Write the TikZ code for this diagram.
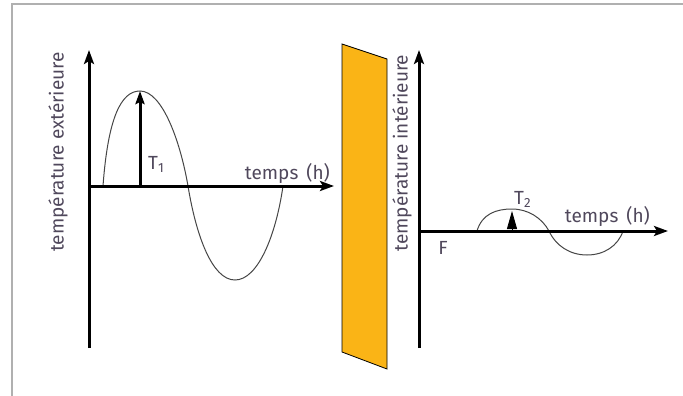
\documentclass[tikz,border=0pt]{standalone}
\usepackage{fontspec}
\setmainfont{Fira Sans}
\usepackage{tikz}
\usepackage{xcolor}
\usetikzlibrary{arrows.meta, positioning, calc}
\definecolor{cText}{RGB}{80,72,92}
\definecolor{cWall}{RGB}{250,180,22}
\definecolor{cFrame}{RGB}{176,176,176}
\definecolor{cCurve}{RGB}{70,70,70}
\tikzset{
    axis/.style     ={line width=3pt, -{Stealth[length=14pt, width=10pt, inset=3pt]}},
    peakarrow/.style={line width=3pt, -{Stealth[length=13pt, width=9pt, inset=2pt]}},
    smallpeak/.style={line width=0.8pt, -{Triangle[length=18pt, width=10pt]}},
    wave/.style     ={line width=1pt, draw=cCurve},
    label/.style    ={text=cText, font=\fontsize{19}{22}\selectfont, inner sep=0pt},
    axislabel/.style={label, rotate=90},
}

\begin{document}
\begin{tikzpicture}[x=1pt, y=-1pt]
    \useasboundingbox (0,0) rectangle (683,396);
    % frame
    \draw[cFrame, line width=1.6pt] (12,396) -- (12,4) -- (683,4);

    % outside graph
    \coordinate (o1)   at (89,186);
    \coordinate (top1) at (89,50);
    \coordinate (bot1) at (89,348);
    \coordinate (end1) at (334,186);
    \coordinate (pk1)  at (140,91);
    \draw[wave] (103,186) .. controls (108,118) and (121,91) .. (pk1)
                .. controls (162,91) and (180,140) .. (188,186)
                .. controls (196,235) and (212,280) .. (235,280)
                .. controls (258,280) and (276,235) .. (283,186);
    \draw[axis] (bot1) -- (top1);
    \draw[axis] (o1) -- (end1);
    \draw[peakarrow] (o1 -| pk1) -- (pk1);
    \node[label, anchor=west] (t1) at (148,164) {T\textsubscript{1}};
    \node[label, anchor=east] (time1) at (330,173) {temps\hspace{8pt}(h)};
    \node[axislabel] (extlab) at (58,152) {température extérieure};

    % wall
    \draw[fill=cWall, line width=0.8pt] (342,44) -- (387,59) -- (387,369) -- (342,352) -- cycle;

    % inside graph
    \coordinate (o2)   at (419,231);
    \coordinate (top2) at (419,50);
    \coordinate (bot2) at (419,348);
    \coordinate (end2) at (668,231);
    \coordinate (pk2)  at (512,209);
    \draw[wave] (477,231) .. controls (482,214) and (496,209) .. (pk2)
                .. controls (528,209) and (542,218) .. (549,231)
                .. controls (556,246) and (570,255) .. (587,255)
                .. controls (604,255) and (618,246) .. (623,231);
    \draw[axis] (bot2) -- (top2);
    \draw[axis] (o2) -- (end2);
    \draw[smallpeak] (o2 -| pk2) -- ($(pk2)+(0,2)$);
    \node[label, anchor=west] (t2) at (514,199) {T\textsubscript{2}};
    \node[label, anchor=east] (time2) at (650,216) {temps\hspace{8pt}(h)};
    \node[label] (f) at (443,248) {F};
    \node[axislabel] (intlab) at (402,153) {température intérieure};
\end{tikzpicture}
\end{document}
